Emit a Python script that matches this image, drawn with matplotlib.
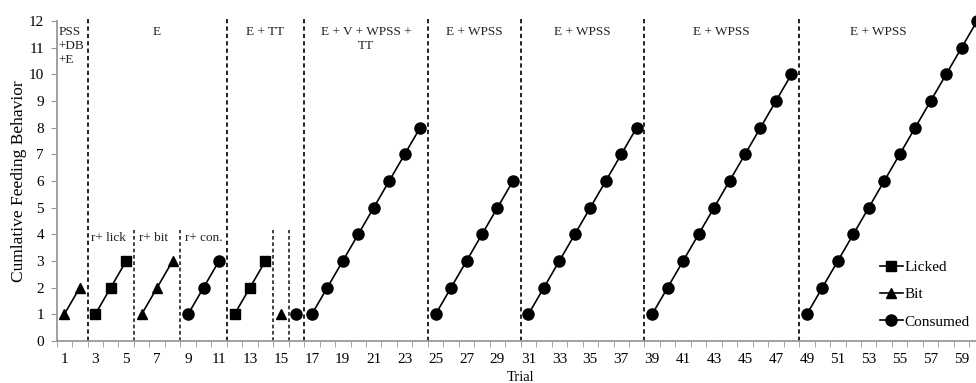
import numpy as np
import matplotlib
matplotlib.use("Agg")
import matplotlib.pyplot as plt

plt.rcParams['font.family'] = ['Liberation Serif', 'DejaVu Serif']

# each run of connected points: first trial, behaviour, cumulative values
seg_start = [1, 3, 6, 9, 12, 15, 16, 17, 25, 31, 39, 49]
seg_kind = ['Bit', 'Licked', 'Bit', 'Consumed', 'Licked', 'Bit', 'Consumed',
            'Consumed', 'Consumed', 'Consumed', 'Consumed', 'Consumed']
seg_values = [
    [1, 2],
    [1, 2, 3],
    [1, 2, 3],
    [1, 2, 3],
    [1, 2, 3],
    [1],
    [1],
    [1, 2, 3, 4, 5, 6, 7, 8],
    [1, 2, 3, 4, 5, 6],
    [1, 2, 3, 4, 5, 6, 7, 8],
    [1, 2, 3, 4, 5, 6, 7, 8, 9, 10],
    [1, 2, 3, 4, 5, 6, 7, 8, 9, 10, 11, 12],
]

# phase change lines (full height) and sub-phase lines (short)
phase_lines = [2.5, 11.5, 16.5, 24.5, 30.5, 38.5, 48.5]
sub_lines = [5.5, 8.5, 14.5, 15.5]

phase_labels = ['E', 'E + TT', 'E + V + WPSS +\nTT', 'E + WPSS', 'E + WPSS', 'E + WPSS', 'E + WPSS']
phase_label_x = [7, 14, 20.5, 27.5, 34.5, 43.5, 53.6]
sub_labels = ['r+ lick', 'r+ bit', 'r+ con.']
sub_label_x = [2.72, 5.82, 8.78]

markers = {'Licked': 's', 'Bit': '^', 'Consumed': 'o'}
msize = {'Licked': 7.2, 'Bit': 7.6, 'Consumed': 8}

fig = plt.figure(figsize=(9.76, 3.83), dpi=100)
ax = fig.add_axes([0.058, 0.110, 0.951, 0.835])

for s, k, v in zip(seg_start, seg_kind, seg_values):
    x = np.arange(s, s + len(v))
    ax.plot(x, v, color='black', lw=1.2, marker=markers[k], ms=msize[k],
            markerfacecolor='black', markeredgecolor='black', clip_on=False, zorder=3)

dash = (0, (2.2, 1.6))
ax.vlines(phase_lines, 0, 12.2, colors='#222222', linestyles=[dash], lw=1.4, clip_on=False)
ax.vlines(sub_lines, 0, 4.15, colors='#222222', linestyles=[dash], lw=1.2, clip_on=False)

ax.text(0.62, 11.8, 'PSS\n+DB\n+E', fontsize=9.5, va='top', ha='left', color='#222222', linespacing=1.2)
for lab, x in zip(phase_labels, phase_label_x):
    ax.text(x, 11.8, lab, fontsize=9.5, va='top', ha='center', color='#222222', linespacing=1.15)
for lab, x in zip(sub_labels, sub_label_x):
    ax.text(x, 3.87, lab, fontsize=9.5, va='center', ha='left', color='#222222')

ax.set_xlim(0.5, 60.5)
ax.set_ylim(0, 12)
ax.set_yticks(range(0, 13))
ax.set_xticks(range(1, 61, 2))
ax.set_xticks(np.arange(0.5, 61, 1), minor=True)
ax.tick_params(axis='x', which='major', length=0, labelsize=11, pad=9)
ax.tick_params(axis='x', which='minor', length=4, color='#999999', direction='out')
ax.tick_params(axis='y', length=4, color='#999999', labelsize=11, pad=5)
for side in ['top', 'right']:
    ax.spines[side].set_visible(False)
for side in ['left', 'bottom']:
    ax.spines[side].set_color('#999999')
    ax.spines[side].set_linewidth(1.3)

ax.set_ylabel('Cumlative Feeding Behavior', fontsize=12.5, labelpad=1)
ax.set_xlabel('Trial', fontsize=10.5, labelpad=3)

handles = [plt.Line2D([], [], color='black', lw=1.2, marker=markers[k], ms=msize[k])
           for k in ['Licked', 'Bit', 'Consumed']]
ax.legend(handles, ['Licked', 'Bit', 'Consumed'], loc='center left',
          bbox_to_anchor=(0.872, 0.145), frameon=False, fontsize=11,
          handlelength=1.5, handletextpad=0.1, labelspacing=0.9)

fig.savefig('out.png', dpi=100)
